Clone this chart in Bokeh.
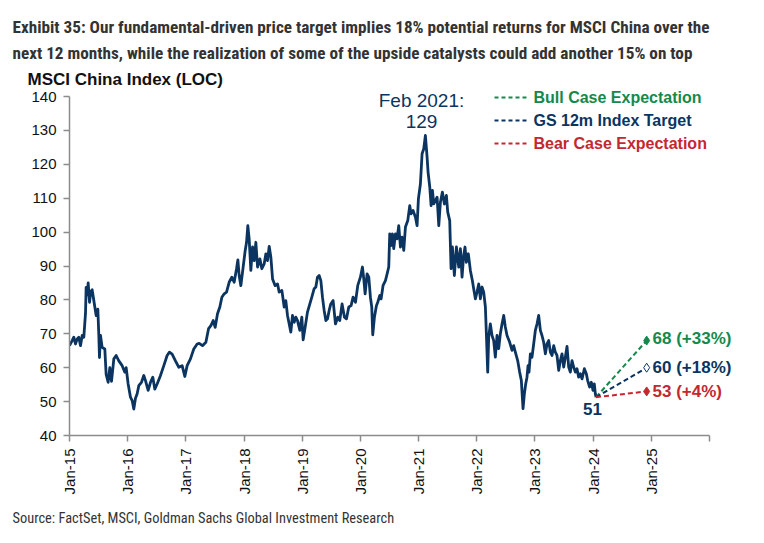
from bokeh.plotting import figure
from bokeh.models import Range1d, FixedTicker, Label, Arrow, Title
from bokeh.embed import file_html
from bokeh.resources import INLINE
from math import pi

# ---------------- data ----------------
dates = [
    2015.000, 2015.046, 2015.074, 2015.103, 2015.132, 2015.160, 2015.189, 2015.218, 2015.246, 2015.275,
    2015.286, 2015.304, 2015.321, 2015.344, 2015.367, 2015.389, 2015.418, 2015.458, 2015.487, 2015.504,
    2015.515, 2015.533, 2015.561, 2015.607, 2015.630, 2015.664, 2015.693, 2015.722, 2015.762, 2015.802,
    2015.848, 2015.905, 2015.951, 2015.974, 2016.008, 2016.048, 2016.077, 2016.105, 2016.134, 2016.163,
    2016.191, 2016.237, 2016.277, 2016.306, 2016.352, 2016.392, 2016.432, 2016.466, 2016.506, 2016.564,
    2016.621, 2016.678, 2016.718, 2016.764, 2016.821, 2016.879, 2016.936, 2016.982, 2017.022, 2017.079,
    2017.136, 2017.194, 2017.229, 2017.286, 2017.344, 2017.390, 2017.430, 2017.470, 2017.504, 2017.544,
    2017.584, 2017.619, 2017.659, 2017.699, 2017.744, 2017.790, 2017.830, 2017.871, 2017.894, 2017.916,
    2017.945, 2017.974, 2018.020, 2018.043, 2018.065, 2018.088, 2018.117, 2018.146, 2018.174, 2018.203,
    2018.232, 2018.272, 2018.306, 2018.346, 2018.375, 2018.404, 2018.432, 2018.461, 2018.490, 2018.535,
    2018.576, 2018.604, 2018.650, 2018.690, 2018.718, 2018.747, 2018.776, 2018.804, 2018.833, 2018.862,
    2018.890, 2018.919, 2018.959, 2018.993, 2019.016, 2019.050, 2019.090, 2019.131, 2019.165, 2019.205,
    2019.234, 2019.262, 2019.291, 2019.320, 2019.348, 2019.377, 2019.406, 2019.434, 2019.463, 2019.491,
    2019.531, 2019.571, 2019.611, 2019.645, 2019.685, 2019.726, 2019.760, 2019.800, 2019.840, 2019.874,
    2019.915, 2019.955, 2020.000, 2020.035, 2020.058, 2020.081, 2020.115, 2020.144, 2020.172, 2020.195,
    2020.212, 2020.241, 2020.275, 2020.298, 2020.333, 2020.356, 2020.390, 2020.430, 2020.459, 2020.487,
    2020.504, 2020.527, 2020.550, 2020.573, 2020.602, 2020.630, 2020.659, 2020.688, 2020.716, 2020.745,
    2020.774, 2020.814, 2020.848, 2020.871, 2020.905, 2020.946, 2020.974, 2020.997, 2021.031, 2021.060,
    2021.089, 2021.117, 2021.146, 2021.163, 2021.192, 2021.215, 2021.238, 2021.261, 2021.289, 2021.318,
    2021.347, 2021.375, 2021.409, 2021.444, 2021.478, 2021.501, 2021.535, 2021.558, 2021.581, 2021.615,
    2021.650, 2021.690, 2021.719, 2021.747, 2021.775, 2021.798, 2021.821, 2021.855, 2021.890, 2021.924,
    2021.947, 2021.976, 2022.004, 2022.033, 2022.062, 2022.090, 2022.119, 2022.148, 2022.165, 2022.188,
    2022.205, 2022.233, 2022.262, 2022.291, 2022.319, 2022.348, 2022.377, 2022.405, 2022.434, 2022.463,
    2022.491, 2022.520, 2022.566, 2022.606, 2022.634, 2022.663, 2022.703, 2022.737, 2022.766, 2022.795,
    2022.818, 2022.841, 2022.863, 2022.881, 2022.898, 2022.921, 2022.949, 2022.978, 2023.007, 2023.035,
    2023.064, 2023.093, 2023.121, 2023.150, 2023.179, 2023.207, 2023.236, 2023.265, 2023.293, 2023.322,
    2023.350, 2023.379, 2023.408, 2023.437, 2023.465, 2023.494, 2023.522, 2023.551, 2023.580, 2023.608,
    2023.637, 2023.665, 2023.694, 2023.723, 2023.751, 2023.780, 2023.809, 2023.849, 2023.883, 2023.906,
    2023.940, 2023.969, 2023.998, 2024.020, 2024.038, 2024.050,
]
index_values = [
    66.5, 68.0, 69.0, 67.0, 68.5, 69.0, 66.5, 69.5, 69.0, 76.0,
    83.7, 81.5, 85.0, 79.3, 82.5, 83.0, 79.8, 75.4, 77.3, 69.5,
    63.0, 69.5, 66.0, 65.5, 58.0, 55.7, 60.0, 56.0, 62.6, 63.6,
    62.0, 60.6, 58.7, 60.0, 55.2, 51.3, 50.3, 47.8, 51.0, 52.3,
    54.7, 55.7, 57.7, 56.2, 53.3, 55.7, 57.2, 53.7, 55.2, 57.7,
    60.6, 63.6, 64.6, 64.0, 62.0, 60.1, 60.6, 57.4, 60.6, 62.6,
    65.5, 67.0, 67.2, 66.5, 67.5, 71.5, 72.4, 73.9, 71.9, 75.9,
    77.9, 80.8, 81.8, 82.3, 85.2, 86.7, 85.2, 89.2, 91.8, 87.2,
    84.2, 88.2, 94.6, 97.0, 101.9, 98.0, 88.7, 95.6, 91.6, 97.0,
    89.7, 92.1, 89.2, 90.6, 93.6, 91.6, 95.8, 92.6, 86.2, 84.2,
    84.7, 82.3, 82.8, 77.9, 79.8, 75.4, 72.9, 70.5, 75.4, 73.4,
    74.9, 73.9, 71.0, 74.9, 68.2, 71.9, 76.4, 78.8, 80.8, 83.3,
    83.8, 86.7, 87.2, 85.7, 80.8, 76.9, 73.9, 74.4, 76.9, 78.8,
    79.8, 72.9, 74.9, 73.9, 78.8, 74.9, 74.4, 77.9, 78.3, 80.8,
    79.3, 84.3, 86.7, 89.7, 86.2, 81.8, 87.7, 86.7, 80.8, 77.9,
    69.7, 74.9, 78.3, 79.3, 81.3, 80.3, 84.3, 85.7, 87.7, 89.7,
    99.5, 96.0, 99.5, 95.1, 99.5, 98.0, 101.9, 95.6, 98.5, 94.6,
    101.5, 103.4, 107.8, 105.4, 106.4, 104.4, 101.9, 109.8, 114.2, 123.1,
    124.6, 128.5, 122.1, 117.7, 113.3, 107.8, 112.3, 108.3, 109.3, 110.3,
    101.9, 108.8, 111.8, 108.3, 110.8, 105.9, 103.4, 89.2, 95.6, 87.2,
    95.6, 89.7, 95.1, 86.7, 93.1, 95.6, 91.1, 93.6, 88.7, 85.7,
    83.3, 80.3, 82.3, 84.7, 80.3, 83.8, 82.3, 77.9, 70.0, 58.7,
    69.0, 72.9, 69.5, 68.0, 63.1, 69.5, 65.6, 70.0, 72.9, 75.4,
    72.0, 69.5, 67.5, 65.1, 66.5, 64.6, 62.1, 58.7, 56.2, 47.9,
    52.3, 55.2, 57.2, 60.6, 58.7, 64.1, 63.1, 67.0, 71.0, 72.9,
    75.4, 71.0, 69.5, 67.5, 64.1, 67.0, 68.0, 64.6, 63.6, 66.5,
    64.6, 63.6, 59.2, 62.1, 64.1, 60.2, 63.1, 66.3, 60.2, 58.7,
    62.1, 60.2, 58.7, 59.7, 57.2, 58.2, 56.7, 59.7, 58.2, 56.2,
    54.3, 55.7, 53.3, 55.2, 52.3, 51.3,
]

scenario_names = ["Bull Case Expectation", "GS 12m Index Target", "Bear Case Expectation"]
scenario_targets = [68, 60, 53]
scenario_returns = ["+33%", "+18%", "+4%"]
target_date = 2024.92

peak_label = "Feb 2021:"
peak_value = 129

tick_years = list(range(2015, 2027))
tick_labels = ["Jan-15", "Jan-16", "Jan-17", "Jan-18", "Jan-19", "Jan-20",
               "Jan-21", "Jan-22", "Jan-23", "Jan-24", "Jan-25", ""]
y_ticks = [40, 50, 60, 70, 80, 90, 100, 110, 120, 130, 140]

title_lines = [
    "Exhibit 35: Our fundamental-driven price target implies 18% potential returns for MSCI China over the",
    "next 12 months, while the realization of some of the upside catalysts could add another 15% on top",
]
axis_title = "MSCI China Index (LOC)"
source_text = "Source: FactSet, MSCI, Goldman Sachs Global Investment Research"

# ---------------- styling ----------------
NAVY = "#0B3560"
GREEN = "#138A4C"
RED = "#C4282E"
SCEN_COLORS = [GREEN, NAVY, RED]
ARIAL = "Liberation Sans, Arial, sans-serif"
COND = "Liberation Sans Narrow, Roboto Condensed, DejaVu Sans Condensed, sans-serif"

W, H = 764, 543
L, R, T, B = 69, 709, 96, 435      # axis extent in pixels
FT = 88                            # frame top (frame extends above the axis top)
X0, X1, Y0, Y1 = 2015, 2026, 40, 140


def dx(px):
    return X0 + (px - L) * (X1 - X0) / (R - L)


def dy(py):
    return Y1 - (py - T) * (Y1 - Y0) / (B - T)


p = figure(width=W, height=H, x_range=Range1d(X0, dx(W)), y_range=Range1d(Y0, dy(FT)),
           output_backend="svg", toolbar_location=None,
           min_border_left=L, min_border_right=0, min_border_top=FT, min_border_bottom=H - B)
p.title.visible = False
p.outline_line_color = None
p.xgrid.visible = False
p.ygrid.visible = False
p.background_fill_color = "white"
p.border_fill_color = "white"

for ax in (p.xaxis[0], p.yaxis[0]):
    ax.axis_line_color = "#8c8c8c"
    ax.axis_line_width = 1.5
    ax.major_tick_line_color = "#8c8c8c"
    ax.major_tick_line_width = 1.5
    ax.major_tick_out = 6
    ax.major_tick_in = 0
    ax.minor_tick_line_color = None
    ax.major_label_text_font = ARIAL
    ax.major_label_text_font_size = "15px"
    ax.major_label_text_color = "#111111"
    ax.major_label_standoff = 7

p.xaxis.ticker = FixedTicker(ticks=tick_years)
p.xaxis.bounds = (X0, X1)
p.xaxis.major_label_overrides = {y: lab for y, lab in zip(tick_years, tick_labels)}
p.xaxis.major_label_orientation = pi / 2
p.yaxis.ticker = FixedTicker(ticks=y_ticks)
p.yaxis.bounds = (Y0, Y1)

# main series
p.line(dates, index_values, line_color=NAVY, line_width=2.8, line_join="round")

# projections
start_x, start_y = dates[-1], index_values[-1]
for tgt, col in zip(scenario_targets, SCEN_COLORS):
    p.line([start_x, target_date], [start_y, tgt], line_color=col, line_width=2, line_dash="5 3")
for tgt, col in zip(scenario_targets, SCEN_COLORS):
    if col == NAVY:
        p.scatter([target_date], [tgt], marker="diamond", size=9, fill_color="white",
                  line_color=NAVY, line_width=1)
    else:
        p.scatter([target_date], [tgt], marker="diamond", size=9, fill_color=col, line_color=col)

label_y_px = [338, 367, 391]
for tgt, ret, col, ly in zip(scenario_targets, scenario_returns, SCEN_COLORS, label_y_px):
    p.add_layout(Label(x=dx(652), y=dy(ly), text=f"{tgt} ({ret})", text_font=ARIAL,
                       text_font_size="17px", text_font_style="bold", text_color=col,
                       text_align="left", text_baseline="middle"))

p.add_layout(Label(x=dx(592), y=dy(408), text=f"{start_y:.0f}", text_font=ARIAL,
                   text_font_size="17px", text_font_style="bold", text_color=NAVY,
                   text_align="center", text_baseline="middle"))

# peak annotation
p.add_layout(Label(x=dx(421), y=dy(100), text=peak_label, text_font=ARIAL,
                   text_font_size="19px", text_color=NAVY, text_align="center", text_baseline="middle"))
p.add_layout(Label(x=dx(421), y=dy(121), text=str(peak_value), text_font=ARIAL,
                   text_font_size="19px", text_color=NAVY, text_align="center", text_baseline="middle"))

# legend
leg_rows = [97, 120, 143]
for name, col, ry in zip(scenario_names, SCEN_COLORS, leg_rows):
    p.add_layout(Arrow(x_start=dx(494), y_start=dy(ry), x_end=dx(527), y_end=dy(ry),
                       start=None, end=None, line_color=col, line_width=2, line_dash="4 3"))
    p.add_layout(Label(x=dx(533), y=dy(ry), text=name, text_font=ARIAL, text_font_size="16px",
                       text_font_style="bold", text_color=col, text_align="left", text_baseline="middle"))

# titles (stacked above the frame; first added is nearest the frame)
p.add_layout(Title(text=axis_title, align="left", offset=27 - L, text_font=ARIAL,
                   text_font_size="17px", text_font_style="bold", text_color="#111111",
                   standoff=0), "above")
p.add_layout(Title(text=title_lines[1], align="left", offset=12 - L, text_font=COND,
                   text_font_size="17.2px", text_font_style="bold", text_color="#333333",
                   standoff=9), "above")
p.add_layout(Title(text=title_lines[0], align="left", offset=12 - L, text_font=COND,
                   text_font_size="17.2px", text_font_style="bold", text_color="#333333",
                   standoff=0), "above")
p.add_layout(Title(text=source_text, align="left", offset=12 - L, text_font=COND,
                   text_font_size="14.4px", text_font_style="normal", text_color="#333333",
                   standoff=21), "below")

open("out.html", "w").write(file_html(p, INLINE))
